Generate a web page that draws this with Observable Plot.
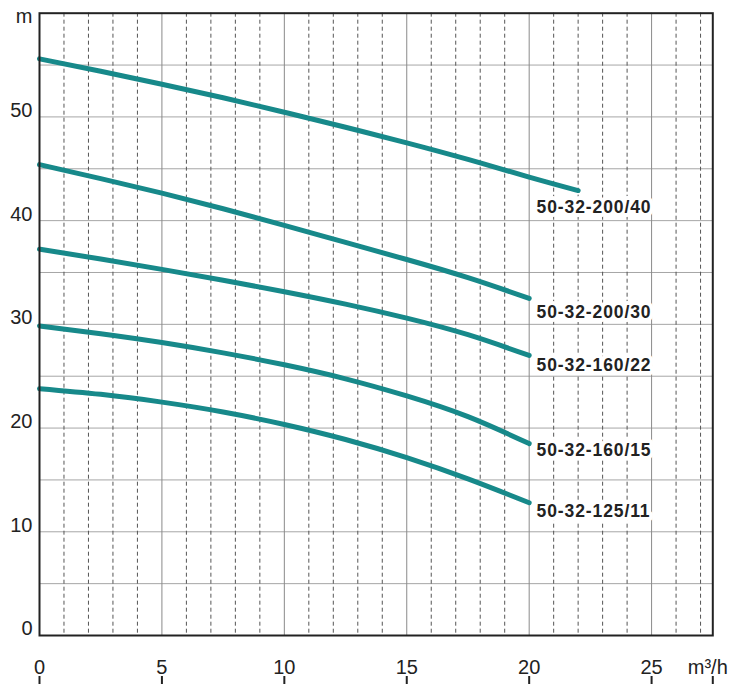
<!DOCTYPE html>
<html><head><meta charset="utf-8">
<script src="https://cdn.jsdelivr.net/npm/d3@7"></script>
<script src="https://cdn.jsdelivr.net/npm/@observablehq/plot@0.6"></script>
<style>
html,body{margin:0;padding:0;background:#fff;}
.curve-label text{letter-spacing:0.9px;}
</style></head><body><div id="chart"></div>
<script>
// Flow rate (m³/h) sample points
const flow = [0, 2.5, 5, 7.5, 10, 12.5, 15, 17.5, 20];
const flow40 = [0, 2.5, 5, 7.5, 10, 12.5, 15, 17.5, 20, 22];
// Head (m) per pump model
const head_200_40 = [55.6, 54.4, 53.15, 51.85, 50.45, 49.0, 47.5, 45.9, 44.2, 42.9];
const head_200_30 = [45.4, 44.05, 42.65, 41.15, 39.55, 37.9, 36.25, 34.5, 32.5];
const head_160_22 = [37.25, 36.3, 35.3, 34.25, 33.15, 31.95, 30.6, 29.0, 27.0];
const head_160_15 = [29.85, 29.1, 28.25, 27.25, 26.1, 24.75, 23.1, 21.1, 18.5];
const head_125_11 = [23.8, 23.25, 22.5, 21.55, 20.35, 18.9, 17.15, 15.1, 12.8];
const models = ["50-32-200/40", "50-32-200/30", "50-32-160/22", "50-32-160/15", "50-32-125/11"];
const labelX = [20.3, 20.3, 20.3, 20.3, 20.3];
const labelY = [41.27, 31.15, 26.08, 17.84, 11.96];
// Axes / grid
const xTickLabels = [0, 5, 10, 15, 20, 25];
const xTickMarks = [0, 5, 10, 15, 20, 25, 27.5];
const xUnit = "m³/h";
const yUnit = "m";
const yTickLabels = [0, 10, 20, 30, 40, 50];
const xMajorGrid = [5, 10, 15, 20, 25];
const xMinorGrid = [1, 2, 3, 4, 6, 7, 8, 9, 11, 12, 13, 14, 16, 17, 18, 19, 21, 22, 23, 24, 26, 27];
const yGrid = [5, 10, 15, 20, 25, 30, 35, 40, 45, 50, 55];

const seriesX = [flow40, flow, flow, flow, flow];
const seriesY = [head_200_40, head_200_30, head_160_22, head_160_15, head_125_11];
const lineData = [];
models.forEach((m, i) => seriesX[i].forEach((x, j) => lineData.push({model: m, x, y: seriesY[i][j]})));
const labels = models.map((m, i) => ({model: m, x: labelX[i], y: labelY[i]}));

const font = "'Liberation Sans', Arial, Helvetica, sans-serif";
const teal = "#17898a";

const chart = Plot.plot({
  width: 729,
  height: 684,
  marginLeft: 39,
  marginRight: 16.7,
  marginTop: 12.7,
  marginBottom: 49,
  style: {fontFamily: font, color: "#222", background: "#fff"},
  x: {domain: [0, 27.5]},
  y: {domain: [0, 60]},
  marks: [
    Plot.ruleY(yGrid, {stroke: "#a6a6a6", strokeWidth: 1}),
    Plot.ruleX(xMinorGrid, {stroke: "#555", strokeWidth: 1, strokeDasharray: "4,3"}),
    Plot.ruleX(xMajorGrid, {stroke: "#8a8a8a", strokeWidth: 1}),
    Plot.line(lineData, {x: "x", y: "y", z: "model", stroke: teal, strokeWidth: 5, curve: "natural", strokeLinecap: "round"}),
    Plot.text(labels, {x: "x", y: "y", text: "model", textAnchor: "start", fontWeight: "bold", fontSize: 17.5, fill: "#222", stroke: "white", strokeWidth: 8, className: "curve-label"}),
    Plot.frame({stroke: "#222", strokeWidth: 2}),
    Plot.axisY(yTickLabels, {tickSize: 0, tickPadding: 7, fontSize: 20, dy: -6.5, label: null}),
    Plot.text([{x: 0, y: 60, t: yUnit}], {x: "x", y: "y", text: "t", textAnchor: "end", lineAnchor: "bottom", dx: -7, dy: 9.3, fontSize: 20, fill: "#222"}),
    Plot.axisX(xTickLabels, {tickSize: 0, tickPadding: 24, fontSize: 20, label: null}),
    Plot.axisX(xTickMarks, {tickSize: 9, text: null, dy: 41, strokeWidth: 2, stroke: "#222", label: null}),
    Plot.text([{x: 27.5, y: 0, t: xUnit}], {x: "x", y: "y", text: "t", lineAnchor: "top", dx: -5, dy: 24, fontSize: 20, fill: "#222", clip: false})
  ]
});
document.getElementById("chart").appendChild(chart);
</script></body></html>
